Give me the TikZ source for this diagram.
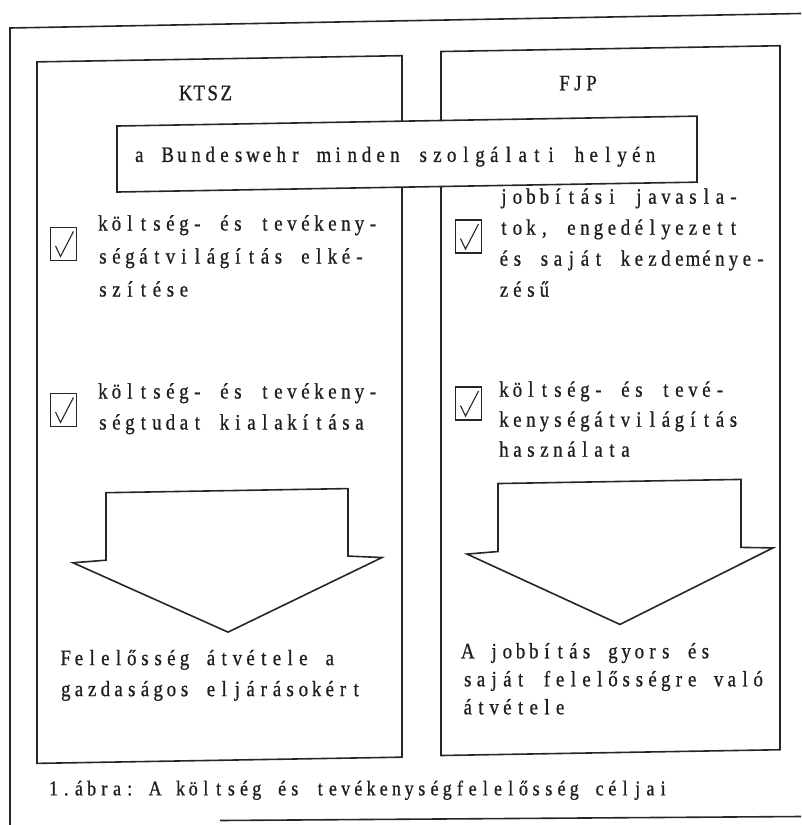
\documentclass[tikz,border=0pt]{standalone}
\usepackage{fontspec}
\newfontfamily\printfont{Liberation Serif}[FakeStretch=0.86, FakeBold=0.8]

% typewriter-like setting: every character sits in a cell of fixed width
\newlength\cellw
\setlength\cellw{13.5pt}
\makeatletter
\def\pf@end{\pf@end}
\def\pf@char#1{\makebox[\cellw]{#1}}
\def\pf@word#1{\pf@wloop#1\pf@end}
\def\pf@wloop#1{\ifx#1\pf@end\else\pf@char{#1}\expandafter\pf@wloop\fi}
\def\pf@split#1 #2\pf@stop{\pf@word{#1}\ifx\relax#2\relax\else\pf@char{}\pf@split#2\pf@stop\fi}
\newcommand\typed[1]{\pf@split#1 \pf@stop}
\makeatother

\newcommand\bodyfnt{\printfont\fontsize{22pt}{22pt}\selectfont\setlength\cellw{13.5pt}}
\newcommand\resfnt{\printfont\fontsize{22pt}{22pt}\selectfont\setlength\cellw{13.2pt}}
\newcommand\bannerfnt{\printfont\fontsize{22pt}{22pt}\selectfont\setlength\cellw{14.2pt}}
\newcommand\capfnt{\printfont\fontsize{21pt}{21pt}\selectfont\setlength\cellw{12.7pt}}

\tikzset{
  line/.style={line width=1.6pt, draw=black!85, line join=miter},
  txt/.style={inner sep=0pt, anchor=mid west, font=\bodyfnt, text=black!88},
  restxt/.style={txt, font=\resfnt},
  title/.style={inner sep=0pt, anchor=center, font=\bodyfnt, text=black!88},
  tickbox/.style={draw=black!85, line width=1.3pt, minimum width=26pt, minimum height=33pt,
    inner sep=0pt,
    path picture={\draw[line width=1.1pt, black!85]
      ([xshift=5pt,yshift=-2pt]path picture bounding box.west) --
      ([xshift=-3pt,yshift=4pt]path picture bounding box.south) --
      ([xshift=-3pt,yshift=-4pt]path picture bounding box.north east);}},
}

\begin{document}
\begin{tikzpicture}[x=1pt, y=-1pt]
\useasboundingbox (0,0) rectangle (801,825);

% outer frame (open at the right)
\coordinate (ftl) at (10,28);
\coordinate (ftr) at (801,13.5);
\coordinate (fbl) at (10,825);
\coordinate (fb1) at (220,820.5);
\coordinate (fb2) at (801,816.5);
\draw[line] (fbl) -- (ftl) -- (ftr);
\draw[line] (fb1) -- (fb2);

\begin{scope}[yslant=0.017]
  % the two columns
  \draw[line] (37,62.5) rectangle (402,764);
  \draw[line] (441,59) rectangle (780,763);

  \node[title] (ktsz) at (206,96.5) {\typed{KTSZ}};
  \node[title] (fjp) at (578,93) {\typed{FJP}};

  % banner laid across both columns
  \draw[line, fill=white] (117,128) rectangle (697,194);
  \node[txt, font=\bannerfnt] (banner) at (132,162) {\typed{a Bundeswehr minden szolgálati helyén}};

  % left column items
  \node[tickbox] (lcb1) at (63.5,245) {};
  \node[txt] (l1a) at (96,230) {\typed{költség- és tevékeny-}};
  \node[txt] (l1b) at (96,263) {\typed{ségátvilágítás elké-}};
  \node[txt] (l1c) at (96,296) {\typed{szítése}};

  \node[tickbox] (lcb2) at (63.5,411) {};
  \node[txt] (l2a) at (96,398) {\typed{költség- és tevékeny-}};
  \node[txt] (l2b) at (96,429) {\typed{ségtudat kialakítása}};

  % right column items
  \node[tickbox] (rcb1) at (468.5,244.5) {};
  \node[txt] (r1a) at (497,210) {\typed{jobbítási javasla-}};
  \node[txt] (r1b) at (497,241) {\typed{tok, engedélyezett}};
  \node[txt] (r1c) at (497,272) {\typed{és saját kezdeménye-}};
  \node[txt] (r1d) at (497,303) {\typed{zésű}};

  \node[tickbox] (rcb2) at (468.5,411.5) {};
  \node[txt] (r2a) at (497,403) {\typed{költség- és tevé-}};
  \node[txt] (r2b) at (497,433) {\typed{kenységátvilágítás}};
  \node[txt] (r2c) at (497,463) {\typed{használata}};

  % block arrows
  \draw[line] (106,494.5) -- (348,494.5) -- (348,562) -- (382,564) -- (228,636)
              -- (73,564) -- (106,562) -- cycle;
  \draw[line] (498,492) -- (741,492) -- (741,560) -- (773,561) -- (620,635)
              -- (467,562) -- (498,560) -- cycle;

  % results
  \node[restxt] (lres1) at (59,664) {\typed{Felelősség átvétele a}};
  \node[restxt] (lres2) at (59,695) {\typed{gazdaságos eljárásokért}};

  \node[restxt] (rres1) at (461,664) {\typed{A jobbítás gyors és}};
  \node[restxt] (rres2) at (461,692) {\typed{saját felelősségre való}};
  \node[restxt] (rres3) at (461,720) {\typed{átvétele}};

  % caption
  \node[txt, font=\capfnt] (caption) at (47,794) {\typed{1.ábra: A költség és tevékenységfelelősség céljai}};
\end{scope}
\end{tikzpicture}
\end{document}
